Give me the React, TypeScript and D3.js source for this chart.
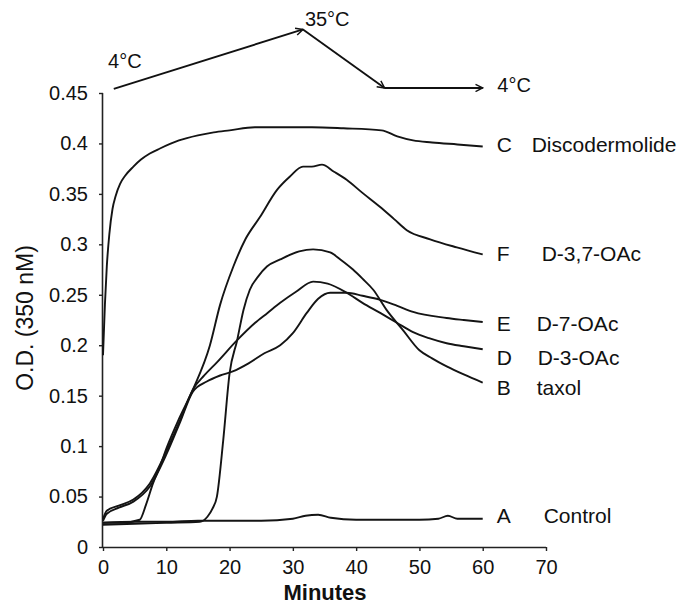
import React, { useEffect, useRef } from 'react'
import * as d3 from 'd3'

// minutes / O.D., one pair of arrays per curve
const minutesC = [0, 0.3, 0.6, 1, 1.5, 2, 2.7, 3.5, 4.8, 6, 7.4, 9, 12, 15, 17.5, 20, 24, 28, 33, 38, 44, 46.5, 49, 52, 56, 60]
const odC = [0.19, 0.24, 0.278, 0.31, 0.335, 0.348, 0.36, 0.368, 0.377, 0.384, 0.39, 0.395, 0.403, 0.408, 0.411, 0.413, 0.416, 0.416, 0.416, 0.415, 0.413, 0.407, 0.403, 0.401, 0.399, 0.397]

const minutesF = [0, 3, 5.8, 6.8, 7.9, 9, 10.1, 12, 14.2, 16.9, 18.5, 20.6, 22.5, 24.8, 27.5, 29.5, 31.6, 33, 34.6, 36.5, 38.5, 41, 43.8, 46, 48, 51.7, 55.9, 60]
const odF = [0.024, 0.024, 0.027, 0.042, 0.063, 0.08, 0.099, 0.127, 0.156, 0.2, 0.24, 0.278, 0.305, 0.327, 0.354, 0.367, 0.377, 0.377, 0.379, 0.372, 0.364, 0.351, 0.337, 0.325, 0.314, 0.305, 0.297, 0.29]

const minutesE = [0, 0.6, 2.5, 4.8, 7.4, 10.1, 12.2, 14.2, 16.4, 18.5, 20.5, 23, 25.5, 28, 30, 32.2, 34, 35.9, 38.5, 41, 43.8, 46.5, 49, 54.3, 57, 60]
const odE = [0.026, 0.033, 0.039, 0.045, 0.06, 0.093, 0.124, 0.154, 0.164, 0.17, 0.174, 0.182, 0.192, 0.2, 0.212, 0.232, 0.246, 0.252, 0.252, 0.249, 0.245, 0.239, 0.233, 0.227, 0.225, 0.223]

const minutesD = [0, 0.6, 2.5, 4.8, 7.4, 10.1, 12.2, 14.2, 16, 18, 21.2, 24, 26, 28, 30.5, 33.2, 35.5, 38.5, 41, 43.8, 46.5, 49, 51.5, 54.3, 57, 60]
const odD = [0.028, 0.036, 0.041, 0.047, 0.063, 0.096, 0.126, 0.156, 0.17, 0.183, 0.205, 0.222, 0.232, 0.242, 0.253, 0.263, 0.261, 0.252, 0.242, 0.232, 0.222, 0.213, 0.207, 0.202, 0.199, 0.196]

const minutesB = [0, 5, 10, 15.3, 16.5, 17.3, 18, 19, 20, 21.2, 22.2, 23.2, 24.5, 25.9, 28, 31, 33.2, 35.9, 37.5, 39.5, 41, 42.7, 44.8, 47.4, 50, 52, 54.3, 57, 60]
const odB = [0.022, 0.023, 0.024, 0.025, 0.03, 0.038, 0.05, 0.106, 0.172, 0.205, 0.235, 0.255, 0.268, 0.278, 0.285, 0.293, 0.295, 0.292, 0.285, 0.275, 0.266, 0.255, 0.235, 0.215, 0.195, 0.187, 0.179, 0.171, 0.163]

const minutesA = [0, 5, 10, 15, 20, 25, 30, 32, 34, 36, 40, 45, 50, 53, 54.5, 56, 60]
const odA = [0.024, 0.025, 0.025, 0.026, 0.026, 0.026, 0.028, 0.031, 0.032, 0.029, 0.027, 0.027, 0.027, 0.028, 0.031, 0.028, 0.028]

const letters = ['C', 'F', 'E', 'D', 'B', 'A']
const names = ['Discodermolide', 'D-3,7-OAc', 'D-7-OAc', 'D-3-OAc', 'taxol', 'Control']

const xTicks = [0, 10, 20, 30, 40, 50, 60, 70]
const yTicks = [0, 0.05, 0.1, 0.15, 0.2, 0.25, 0.3, 0.35, 0.4, 0.45]

// temperature programme drawn above the plot (minutes, O.D. units)
const tempMinutes = [1.7, 31.6, 44.5, 60]
const tempLevel = [0.454, 0.513, 0.455, 0.455]
const tempLabels = ['4°C', '35°C', '4°C']

const W = 681
const H = 605
const FONT = '"Liberation Sans", Arial, sans-serif'

export default function App() {
	const ref = useRef<SVGSVGElement>(null)

	useEffect(() => {
		const svg = d3.select(ref.current)
		svg.selectAll('*').remove()

		const x = d3.scaleLinear().domain([0, 70]).range([103, 546])
		const y = d3.scaleLinear().domain([0, 0.45]).range([547, 93])

		const series = [
			{ t: minutesC, v: odC, labelY: 0.392, nameDx: 49 },
			{ t: minutesF, v: odF, labelY: 0.283, nameDx: 59 },
			{ t: minutesE, v: odE, labelY: 0.214, nameDx: 54 },
			{ t: minutesD, v: odD, labelY: 0.18, nameDx: 55 },
			{ t: minutesB, v: odB, labelY: 0.151, nameDx: 54 },
			{ t: minutesA, v: odA, labelY: 0.024, nameDx: 61 },
		]

		svg.append('defs')
			.append('marker')
			.attr('id', 'arrow')
			.attr('viewBox', '0 0 10 10')
			.attr('refX', 9)
			.attr('refY', 5)
			.attr('markerWidth', 9)
			.attr('markerHeight', 9)
			.attr('markerUnits', 'userSpaceOnUse')
			.attr('orient', 'auto')
			.append('path')
			.attr('d', 'M1,1 L9,5 L1,9')
			.attr('fill', 'none')
			.attr('stroke', '#111')
			.attr('stroke-width', 1.6)

		// axes
		const yAxis = svg.append('g')
			.attr('transform', `translate(${x(0)},0)`)
			.call(d3.axisLeft(y).tickValues(yTicks).tickSize(4).tickPadding(11)
				.tickFormat((d) => String(+(+d).toFixed(2))))
		const xAxis = svg.append('g')
			.attr('transform', `translate(0,${y(0)})`)
			.call(d3.axisBottom(x).tickValues(xTicks).tickSize(4).tickPadding(9))

		for (const ax of [yAxis, xAxis]) {
			ax.select('.domain').attr('stroke', '#222').attr('stroke-width', 1.6)
			ax.selectAll('.tick line').attr('stroke', '#222').attr('stroke-width', 1.4)
			ax.selectAll('.tick text').attr('fill', '#111')
				.style('font-family', FONT).style('font-size', '20px')
		}
		yAxis.select('.domain').attr('d', `M-0.5,${y(0.45)}V${y(0)}`)
		xAxis.select('.domain').attr('d', `M${x(0)},0.5H${x(70)}`)

		// curves
		const line = d3.line<[number, number]>()
			.x((d) => x(d[0]))
			.y((d) => y(d[1]))
			.curve(d3.curveMonotoneX)

		series.forEach((s, i) => {
			const pts = s.t.map((t, k) => [t, s.v[k]] as [number, number])
			svg.append('path')
				.attr('d', line(pts))
				.attr('fill', 'none')
				.attr('stroke', '#141414')
				.attr('stroke-width', 1.9)
				.attr('stroke-linejoin', 'round')

			const x0 = x(60)
			svg.append('text')
				.attr('x', x0 + 14)
				.attr('y', y(s.labelY))
				.style('font-family', FONT)
				.style('font-size', '21px')
				.attr('fill', '#111')
				.text(letters[i])
			svg.append('text')
				.attr('x', x0 + s.nameDx)
				.attr('y', y(s.labelY))
				.style('font-family', FONT)
				.style('font-size', '21px')
				.attr('fill', '#111')
				.text(names[i])
		})

		// temperature arrows
		for (let k = 0; k < tempMinutes.length - 1; k++) {
			svg.append('line')
				.attr('x1', x(tempMinutes[k]))
				.attr('y1', y(tempLevel[k]))
				.attr('x2', x(tempMinutes[k + 1]))
				.attr('y2', y(tempLevel[k + 1]))
				.attr('stroke', '#111')
				.attr('stroke-width', 1.9)
				.attr('marker-end', 'url(#arrow)')
		}
		const tempAt = [[0.8, 0.475], [31.9, 0.516], [62.3, 0.451]]
		tempLabels.forEach((lab, k) => {
			svg.append('text')
				.attr('x', x(tempAt[k][0]))
				.attr('y', y(tempAt[k][1]))
				.style('font-family', FONT)
				.style('font-size', '20px')
				.attr('fill', '#111')
				.text(lab)
		})

		// axis titles
		svg.append('text')
			.attr('x', 325)
			.attr('y', 600)
			.attr('text-anchor', 'middle')
			.style('font-family', FONT)
			.style('font-size', '22px')
			.style('font-weight', 'bold')
			.attr('fill', '#111')
			.text('Minutes')

		svg.append('text')
			.attr('transform', `translate(33,318) rotate(-90)`)
			.attr('text-anchor', 'middle')
			.style('font-family', FONT)
			.style('font-size', '23px')
			.attr('fill', '#111')
			.text('O.D. (350 nM)')
	}, [])

	return (
		<svg
			ref={ref}
			width={W}
			height={H}
			style={{ position: 'absolute', left: 0, top: 0, background: '#fff' }}
		/>
	)
}
